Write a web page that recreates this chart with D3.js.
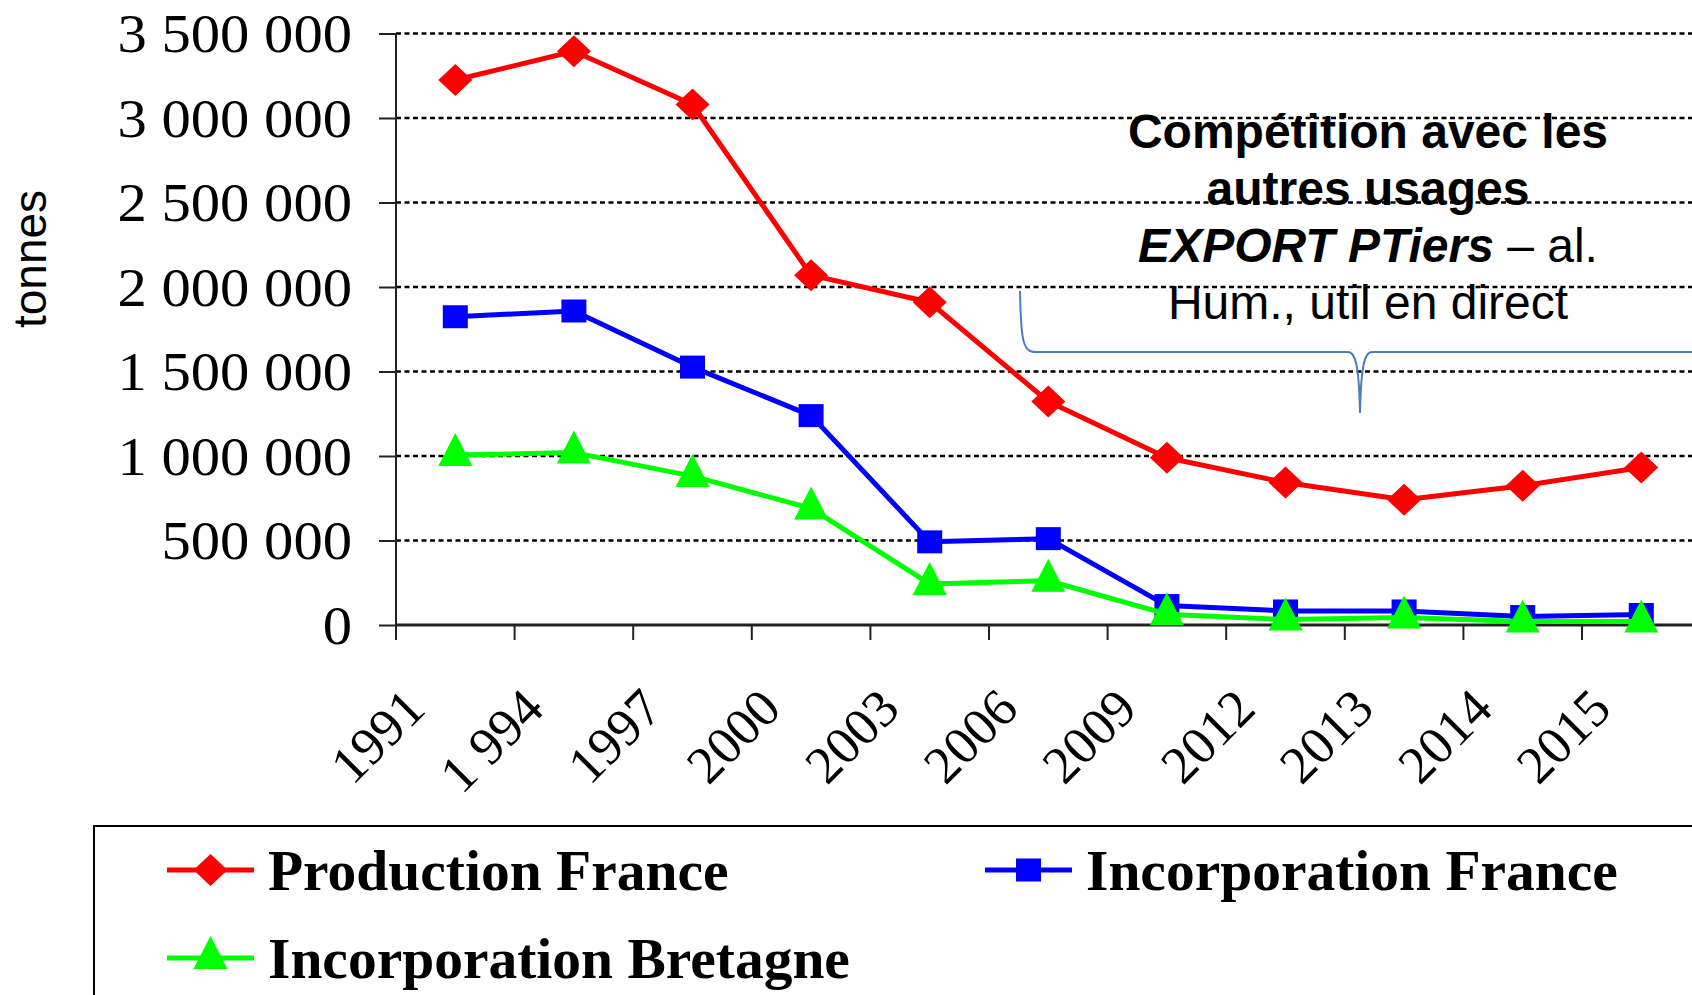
<!DOCTYPE html>
<html>
<head>
<meta charset="utf-8">
<script src="https://cdn.jsdelivr.net/npm/d3@7"></script>
<style>
  html, body { margin: 0; padding: 0; background: #fff; overflow: hidden; }
  svg { display: block; }
</style>
</head>
<body>
<svg id="chart" width="1692" height="995"></svg>
<script>
// chart data
const years = ['1991', '1 994', '1997', '2000', '2003', '2006', '2009', '2012', '2013', '2014', '2015'];
const productionFrance = [3225000, 3395000, 3080000, 2070000, 1910000, 1322000, 990000, 843000, 741000, 824000, 932000];
const incorporationFrance = [1824000, 1858000, 1526000, 1239000, 492000, 511000, 115000, 83000, 83000, 50000, 62000];
const incorporationBretagne = [1006000, 1020000, 881000, 690000, 243000, 262000, 64000, 32000, 45000, 20000, 20000];
const yTicks = [0, 500000, 1000000, 1500000, 2000000, 2500000, 3000000, 3500000];
const annotationLines = ['Compétition avec les', 'autres usages'];

const series = [
    { name: 'Production France', values: productionFrance, color: '#ff0000', marker: 'diamond' },
    { name: 'Incorporation France', values: incorporationFrance, color: '#0000ff', marker: 'square' },
    { name: 'Incorporation Bretagne', values: incorporationBretagne, color: '#00ff00', marker: 'triangle' }
];

const svg = d3.select('#chart');
const W = 1692;
const stretch = 1.086; // the original picture is a bit wider than tall

const left = 396;
const step = 118.6;
const xScale = d3.scaleBand()
    .domain(years)
    .range([left, left + step * years.length])
    .padding(0);
const yScale = d3.scaleLinear()
    .domain([0, 3500000])
    .range([625, 33.5]);

const markerPath = (type) => {
    if (type === 'diamond') return 'M0,-16L17,0L0,16L-17,0Z';
    if (type === 'square') return 'M-12.5,-11.5H12.5V11.5H-12.5Z';
    return 'M0,-22L17,11L-17,11Z';
};

// grid lines
svg.append('g')
    .selectAll('line')
    .data(yTicks.filter(d => d > 0))
    .enter()
    .append('line')
    .attr('x1', left)
    .attr('x2', W)
    .attr('y1', d => yScale(d))
    .attr('y2', d => yScale(d))
    .attr('stroke', '#000')
    .attr('stroke-width', 2.4)
    .attr('stroke-dasharray', '5,3.5');

// y axis
const yAxis = svg.append('g')
    .attr('transform', `translate(${left},0)`)
    .call(d3.axisLeft(yScale)
        .tickValues(yTicks)
        .tickSize(17)
        .tickPadding(27)
        .tickFormat(d => d3.format(',')(d).replace(/,/g, ' ')));
yAxis.select('.domain').remove();
yAxis.selectAll('line').attr('stroke', '#222').attr('stroke-width', 2);
yAxis.selectAll('text')
    .attr('fill', '#000')
    .attr('font-family', '"Liberation Serif", "Times New Roman", serif')
    .attr('font-size', 54)
    .attr('x', -44 / stretch)
    .attr('transform', `scale(${stretch},1)`)
    .attr('dy', '0.34em');

svg.append('line')
    .attr('x1', left).attr('x2', left)
    .attr('y1', yScale(3500000)).attr('y2', 640)
    .attr('stroke', '#222').attr('stroke-width', 2);

// x axis
svg.append('line')
    .attr('x1', left).attr('x2', W)
    .attr('y1', yScale(0)).attr('y2', yScale(0))
    .attr('stroke', '#222').attr('stroke-width', 3);

svg.append('g')
    .selectAll('line')
    .data(years)
    .enter()
    .append('line')
    .attr('x1', d => xScale(d))
    .attr('x2', d => xScale(d))
    .attr('y1', yScale(0))
    .attr('y2', 640)
    .attr('stroke', '#222')
    .attr('stroke-width', 2);

svg.append('g')
    .selectAll('text')
    .data(years)
    .enter()
    .append('text')
    .attr('transform', d => `translate(${xScale(d) + xScale.bandwidth() / 2 - 54},${685}) rotate(-45)`)
    .attr('text-anchor', 'end')
    .attr('font-family', '"Liberation Serif", "Times New Roman", serif')
    .attr('font-size', 53)
    .attr('dy', '0.7em')
    .text(d => d);

// y axis title
svg.append('text')
    .attr('transform', 'translate(46,259) rotate(-90)')
    .attr('text-anchor', 'middle')
    .attr('font-family', '"Liberation Sans", Arial, sans-serif')
    .attr('font-size', 46)
    .text('tonnes');

// series
const line = d3.line()
    .x((d, i) => xScale(years[i]) + xScale.bandwidth() / 2)
    .y(d => yScale(d));

series.forEach(s => {
    svg.append('path')
        .datum(s.values)
        .attr('fill', 'none')
        .attr('stroke', s.color)
        .attr('stroke-width', 5)
        .attr('stroke-linejoin', 'round')
        .attr('d', line);
    svg.append('g')
        .selectAll('path')
        .data(s.values)
        .enter()
        .append('path')
        .attr('transform', (d, i) => `translate(${xScale(years[i]) + xScale.bandwidth() / 2},${yScale(d)})`)
        .attr('d', markerPath(s.marker))
        .attr('fill', s.color);
});

// annotation brace
svg.append('path')
    .attr('d', 'M1020,291 C1021,342 1023,352 1036,352 L1348,352 C1356,352 1359,368 1360,413 C1361,368 1364,352 1372,352 L1692,352')
    .attr('fill', 'none')
    .attr('stroke', '#4a7ebb')
    .attr('stroke-width', 2);

const note = svg.append('g')
    .attr('font-family', '"Liberation Sans", Arial, sans-serif')
    .attr('font-size', 48)
    .attr('text-anchor', 'middle');
annotationLines.forEach((t, i) => {
    note.append('text')
        .attr('x', 1368)
        .attr('y', 148 + i * 57)
        .attr('font-weight', 'bold')
        .text(t);
});
const l3 = note.append('text').attr('x', 1368).attr('y', 148 + 2 * 57);
l3.append('tspan').attr('font-weight', 'bold').attr('font-style', 'italic').text('EXPORT PTiers');
l3.append('tspan').text(' – al.');
note.append('text').attr('x', 1368).attr('y', 148 + 3 * 57).text('Hum., util en direct');

// legend
svg.append('rect')
    .attr('x', 94).attr('y', 826)
    .attr('width', W).attr('height', 300)
    .attr('fill', 'none')
    .attr('stroke', '#000')
    .attr('stroke-width', 2);

const legendPos = [[167, 870], [985, 870], [167, 958]];
const legend = svg.append('g')
    .selectAll('g')
    .data(series)
    .enter()
    .append('g')
    .attr('transform', (d, i) => `translate(${legendPos[i][0]},${legendPos[i][1]})`);
legend.append('line')
    .attr('x1', 0).attr('x2', 87)
    .attr('stroke', d => d.color)
    .attr('stroke-width', 5);
legend.append('path')
    .attr('transform', 'translate(43.5,0)')
    .attr('d', d => markerPath(d.marker))
    .attr('fill', d => d.color);
legend.append('text')
    .attr('x', 101)
    .attr('dy', '0.34em')
    .attr('font-family', '"Liberation Serif", "Times New Roman", serif')
    .attr('font-weight', 'bold')
    .attr('font-size', 57.5)
    .text(d => d.name);
</script>
</body>
</html>
